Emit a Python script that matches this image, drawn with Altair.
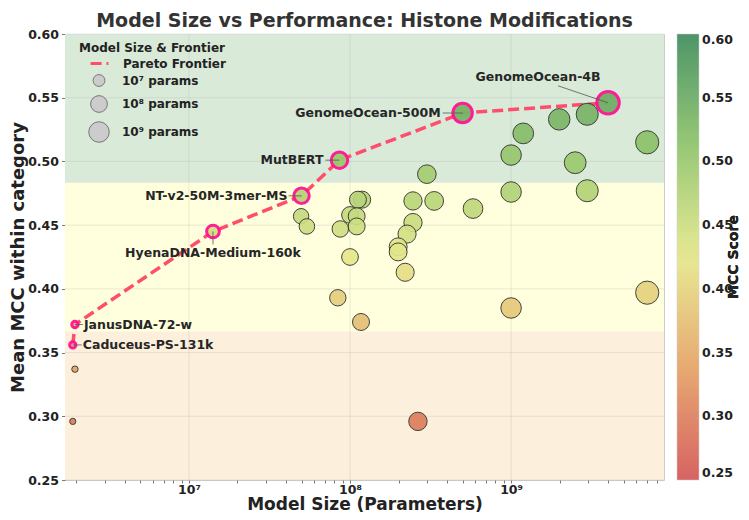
import math
import altair as alt
import pandas as pd

W, H = 599, 446

# ---------------- data ----------------
# all models (non-frontier)
params = [1.0e9, 2.5e9, 7.0e9, 3.0e8, 1.0e9, 2.97e9, 1.19e8, 1.12e8, 2.46e8, 3.33e8,
          5.8e8, 1.0e8, 1.1e8, 4.97e7, 2.46e8, 5.4e7, 1.1e8, 8.7e7, 2.26e8, 1.99e8,
          1.99e8, 1.0e8, 2.2e8, 7.0e9, 8.4e7, 1.0e9, 1.17e8, 2.64e8, 1.99e9, 2.97e9,
          1.19e9, 1.96e6, 1.9e6]
mcc = [0.505, 0.499, 0.515, 0.490, 0.476, 0.477, 0.470, 0.470, 0.469, 0.469,
       0.463, 0.458, 0.457, 0.457, 0.452, 0.449, 0.449, 0.447, 0.443, 0.433,
       0.429, 0.425, 0.413, 0.397, 0.393, 0.385, 0.374, 0.296, 0.533, 0.537,
       0.522, 0.337, 0.296]

# Pareto frontier models
pareto_names = ["Caduceus-PS-131k", "JanusDNA-72-w", "HyenaDNA-Medium-160k",
                "NT-v2-50M-3mer-MS", "MutBERT", "GenomeOcean-500M", "GenomeOcean-4B"]
pareto_params = [1.9e6, 1.96e6, 1.41e7, 5.0e7, 8.6e7, 5.0e8, 4.0e9]
pareto_mcc = [0.356, 0.372, 0.445, 0.473, 0.501, 0.538, 0.546]

# performance bands
band_names = ["low", "mid", "high"]
band_low = [0.25, 0.3667, 0.4833]
band_high = [0.3667, 0.4833, 0.60]
band_colors = ["#fcf0dc", "#ffffdd", "#d9ead9"]

y_ticks = [0.25, 0.30, 0.35, 0.40, 0.45, 0.50, 0.55, 0.60]
x_major = [1e7, 1e8, 1e9]
x_minor = [2e6, 3e6, 4e6, 5e6, 6e6, 7e6, 8e6, 9e6,
           2e7, 3e7, 4e7, 5e7, 6e7, 7e7, 8e7, 9e7,
           2e8, 3e8, 4e8, 5e8, 6e8, 7e8, 8e8, 9e8,
           2e9, 3e9, 4e9, 5e9, 6e9, 7e9, 8e9]
size_legend_values = [1, 2, 3]  # log10(params) - 6  -> 1e7, 1e8, 1e9

cmap_domain = [0.25, 0.3375, 0.425, 0.5125, 0.60]
cmap_colors = ["#d45656", "#e6a266", "#e6e88b", "#8fc46a", "#3e8c5d"]

# ---------------- frames ----------------
pts = pd.DataFrame({"params": params, "mcc": mcc})
pts["sz"] = [math.log10(p) - 6 for p in params]
par = pd.DataFrame({"name": pareto_names, "params": pareto_params, "mcc": pareto_mcc})
par["sz"] = [math.log10(p) - 6 for p in pareto_params]
par["idx"] = list(range(len(par)))
par["series"] = "Pareto Frontier"
bands = pd.DataFrame({"band": band_names, "lo": band_low, "hi": band_high})
ygrid = pd.DataFrame({"v": y_ticks})
xgrid = pd.DataFrame({"v": x_major})

FONT = "DejaVu Sans"
TXT = "#222222"

xscale = alt.Scale(type="log", domain=[1.7e6, 8.9e9], nice=False)
yscale = alt.Scale(domain=[0.25, 0.60], nice=False, zero=False)

label_expr = ("datum.value == 10000000 ? '10\u2077' : datum.value == 100000000 ? '10\u2078' : "
              "datum.value == 1000000000 ? '10\u2079' : ''")
xaxis = alt.Axis(values=sorted(x_major + x_minor), labelExpr=label_expr, grid=False, domain=False,
                 tickSize=3, tickColor="#555555", tickWidth=0.8, labelFontSize=12.5,
                 labelFontWeight="bold", labelColor=TXT, labelPadding=0, labelOverlap=False,
                 labelFlush=False, title="Model Size (Parameters)", titleFontSize=17,
                 titleFontWeight="bold", titleColor=TXT, titleBaseline="alphabetic", titleY=29)
yaxis = alt.Axis(values=y_ticks, format=".2f", grid=False, domain=False, tickSize=3.5,
                 tickColor="#555555", tickWidth=0.8, labelFontSize=12.5, labelFontWeight="bold",
                 labelColor=TXT, labelPadding=3, title="Mean MCC within category",
                 titleFontSize=18, titleFontWeight="bold", titleColor=TXT, titlePadding=0)


def X(f):
    return alt.X(f"{f}:Q", scale=xscale, axis=xaxis)


def Y(f):
    return alt.Y(f"{f}:Q", scale=yscale, axis=yaxis)


color_legend = alt.Legend(title=None, orient="none", legendX=612, legendY=0,
                          direction="vertical", gradientLength=H, gradientThickness=22,
                          values=y_ticks, format=".2f", labelFontSize=12.5, labelFontWeight="bold",
                          labelColor=TXT, labelOffset=3, labelOverlap=False, labelBaseline="middle",
                          gradientStrokeColor="#cccccc", gradientStrokeWidth=0.5)


def COLOR():
    return alt.Color("mcc:Q", scale=alt.Scale(domain=cmap_domain, range=cmap_colors,
                                              interpolate="rgb"), legend=color_legend)


size_legend = alt.Legend(title=None, orient="none", legendX=14, legendY=40,
                         values=size_legend_values,
                         labelExpr="datum.value == 1 ? '10\u2077 params' : datum.value == 2 ? "
                                   "'10\u2078 params' : '10\u2079 params'",
                         symbolFillColor="#cccccc", symbolStrokeColor="#777777",
                         symbolStrokeWidth=1, symbolOpacity=1, symbolOffset=9,
                         labelFontSize=12, labelFontWeight="bold", labelColor=TXT,
                         labelOffset=12, rowPadding=4)


def SIZE():
    return alt.Size("sz:Q", scale=alt.Scale(domain=[0, 4], range=[0, 560]), legend=size_legend)


band_layer = alt.Chart(bands).mark_rect().encode(
    x=alt.value(0), x2=alt.value(W), y=Y("lo"), y2="hi",
    fill=alt.Fill("band:N", scale=alt.Scale(domain=band_names, range=band_colors), legend=None))

ygrid_layer = alt.Chart(ygrid).mark_rule(color="#b0b0b0", opacity=0.35, strokeWidth=0.8).encode(
    x=alt.value(0), x2=alt.value(W), y=Y("v"))
xgrid_layer = alt.Chart(xgrid).mark_rule(color="#b0b0b0", opacity=0.35, strokeWidth=0.8).encode(
    x=X("v"), y=alt.value(0), y2=alt.value(H))

line_layer = alt.Chart(par).mark_line(color="#ff4d6d", strokeWidth=3.5).encode(
    x=X("params"), y=Y("mcc"), order="idx:Q",
    strokeDash=alt.StrokeDash("series:N", scale=alt.Scale(domain=["Pareto Frontier"], range=[[11, 5]]),
                              legend=alt.Legend(title="Model Size & Frontier", orient="none",
                                                legendX=14, legendY=9, symbolType="stroke",
                                                symbolStrokeColor="#ff4d6d", symbolStrokeWidth=3,
                                                symbolSize=320, symbolOffset=10, symbolDash=[7, 4],
                                                labelFontSize=12, labelFontWeight="bold",
                                                labelColor=TXT, titleFontSize=12,
                                                titleFontWeight="bold", titleColor=TXT,
                                                labelOffset=13, titlePadding=-2)))

pts_layer = alt.Chart(pts).mark_circle(stroke="#333333", strokeWidth=1, opacity=0.92).encode(
    x=X("params"), y=Y("mcc"), color=COLOR(), size=SIZE())

par_layer = alt.Chart(par).mark_circle(stroke="#ff1493", strokeWidth=3, opacity=0.95).encode(
    x=X("params"), y=Y("mcc"), color=COLOR(), size=SIZE())

# colorbar title (rotated)
cbar_title = alt.Chart(bands).mark_text(angle=270, fontSize=14, fontWeight="bold", color=TXT,
                                        font=FONT, align="center", baseline="middle").encode(
    x=alt.value(W + 70), y=alt.value(H / 2), text=alt.value("MCC Score"))

# annotation styles: (align, dx, dy, leader x0, y0, x1, y1)
ann_style = {
    "GenomeOcean-4B": ("center", -70, -26, -50, -17, 0, 0),
    "GenomeOcean-500M": ("right", -22, 0, -20, 0, 0, 0),
    "MutBERT": ("right", -16, 0, -14, 0, 0, 0),
    "NT-v2-50M-3mer-MS": ("right", -14, 0, -13, 0, 0, 0),
    "HyenaDNA-Medium-160k": ("center", 0, 21, 0, 0, 0, 13),
    "JanusDNA-72-w": ("left", 9, 0, 0, 0, 8, 0),
    "Caduceus-PS-131k": ("left", 10, 0, 0, 0, 9, 0),
}

ann_layers = []
for name, (al, dx, dy, lx0, ly0, lx1, ly1) in ann_style.items():
    base = alt.Chart(par).transform_filter(alt.datum.name == name)
    ann_layers.append(base.mark_rule(color="#555555", strokeWidth=0.8, xOffset=lx0, yOffset=ly0,
                                     x2Offset=lx1, y2Offset=ly1).encode(
        x=X("params"), y=Y("mcc"), x2="params", y2="mcc"))
    ann_layers.append(base.mark_text(align=al, baseline="middle", dx=dx, dy=dy, fontSize=12.5,
                                     fontWeight="bold", color="#262626", font=FONT).encode(
        x=X("params"), y=Y("mcc"), text="name:N"))

chart = alt.layer(band_layer, ygrid_layer, xgrid_layer, line_layer, pts_layer, par_layer,
                  *ann_layers, cbar_title).properties(
    width=W, height=H,
    title=alt.TitleParams("Model Size vs Performance: Histone Modifications", fontSize=19,
                          fontWeight="bold", color="#333333", anchor="middle", offset=-3,
                          frame="group", font=FONT),
    autosize=alt.AutoSizeParams(type="none"),
    padding={"left": 57, "top": 26, "right": 77, "bottom": 32},
).configure(font=FONT).configure_view(stroke="#cccccc", strokeWidth=1)

chart.save("out.html", embed_options={"renderer": "svg", "actions": False})
